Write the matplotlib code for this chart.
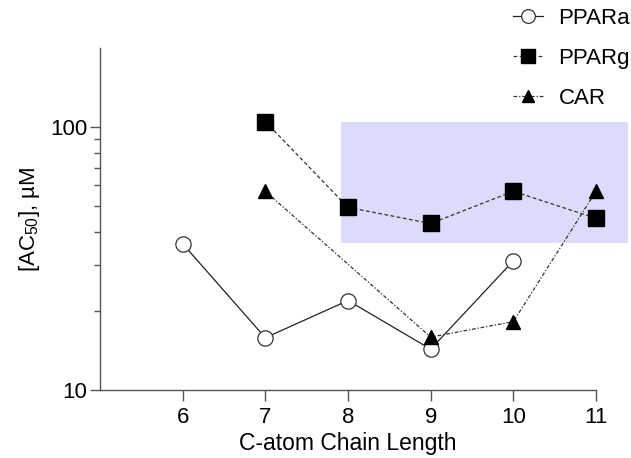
import matplotlib
matplotlib.use("Agg")
from matplotlib import pyplot as plt
from matplotlib.patches import Rectangle
from matplotlib.ticker import FixedLocator, NullFormatter

plt.rcParams['font.family'] = ['Liberation Sans', 'DejaVu Sans']
plt.rcParams['mathtext.fontset'] = 'custom'
plt.rcParams['mathtext.rm'] = 'Liberation Sans'
plt.rcParams['mathtext.it'] = 'Liberation Sans'

# data
ppara_x = [6, 7, 8, 9, 10]
ppara_y = [36, 15.8, 21.9, 14.3, 31]
pparg_x = [7, 8, 9, 10, 11]
pparg_y = [105, 49.5, 43, 57, 45]
car_x = [7, 9, 10, 11]
car_y = [57, 15.9, 18.2, 57]
x_ticks = [6, 7, 8, 9, 10, 11]
band_x = [7.92, 11.39]
band_y = [36.4, 105]

fig = plt.figure(figsize=(6.31, 4.58), dpi=100)
ax = fig.add_axes([100 / 631, 1 - 390 / 458, 496 / 631, 342 / 458])

# shaded region, runs past the right end of the axis
ax.add_patch(Rectangle((band_x[0], band_y[0]), band_x[1] - band_x[0], band_y[1] - band_y[0],
                       facecolor='#dcdcfa', edgecolor='none', zorder=0, clip_on=False))

ax.plot(ppara_x, ppara_y, '-', color='#222222', lw=0.9, marker='o', ms=11,
        mfc='white', mec='#333333', mew=0.9, label='PPARa', clip_on=False, zorder=3)
ax.plot(pparg_x, pparg_y, '--', color='#333333', lw=0.9, dashes=(3, 2), marker='s', ms=11,
        mfc='black', mec='black', label='PPARg', clip_on=False, zorder=3)
ax.plot(car_x, car_y, '-.', color='#333333', lw=0.9, dashes=(3, 1.5, 1, 1.5), marker='^', ms=10,
        mfc='black', mec='black', label='CAR', clip_on=False, zorder=3)

ax.set_yscale('log')
ax.set_xlim(5, 11)
ax.set_ylim(10, 200)
ax.set_xticks(x_ticks)
ax.set_xticklabels([str(t) for t in x_ticks])
ax.yaxis.set_major_locator(FixedLocator([10, 100]))
ax.yaxis.set_minor_locator(FixedLocator([20, 30, 40, 50, 60, 70, 80, 90]))
ax.yaxis.set_minor_formatter(NullFormatter())
ax.set_yticklabels(['10', '100'])

for s in ['top', 'right']:
    ax.spines[s].set_visible(False)
for s in ['left', 'bottom']:
    ax.spines[s].set_color('#555555')
    ax.spines[s].set_linewidth(1.0)

ax.tick_params(axis='x', direction='out', length=8, width=1, color='#555555',
               labelsize=16, pad=4)
ax.tick_params(axis='y', which='major', direction='out', length=7, width=1,
               color='#555555', labelsize=16, pad=2)
ax.tick_params(axis='y', which='minor', direction='out', length=4, width=1, color='#555555')

ax.set_xlabel('C-atom Chain Length', fontsize=16.5, labelpad=3)
ax.set_ylabel('[AC$_{50}$], µM', fontsize=16, labelpad=6)

leg = fig.legend(loc='upper left', bbox_to_anchor=(513 / 631, 1 - 8 / 458), frameon=False,
                 fontsize=16, borderpad=0, borderaxespad=0,
                 handlelength=1.35, handletextpad=0.7, labelspacing=0.85, markerscale=0.9)

fig.savefig('out.png', dpi=100)
